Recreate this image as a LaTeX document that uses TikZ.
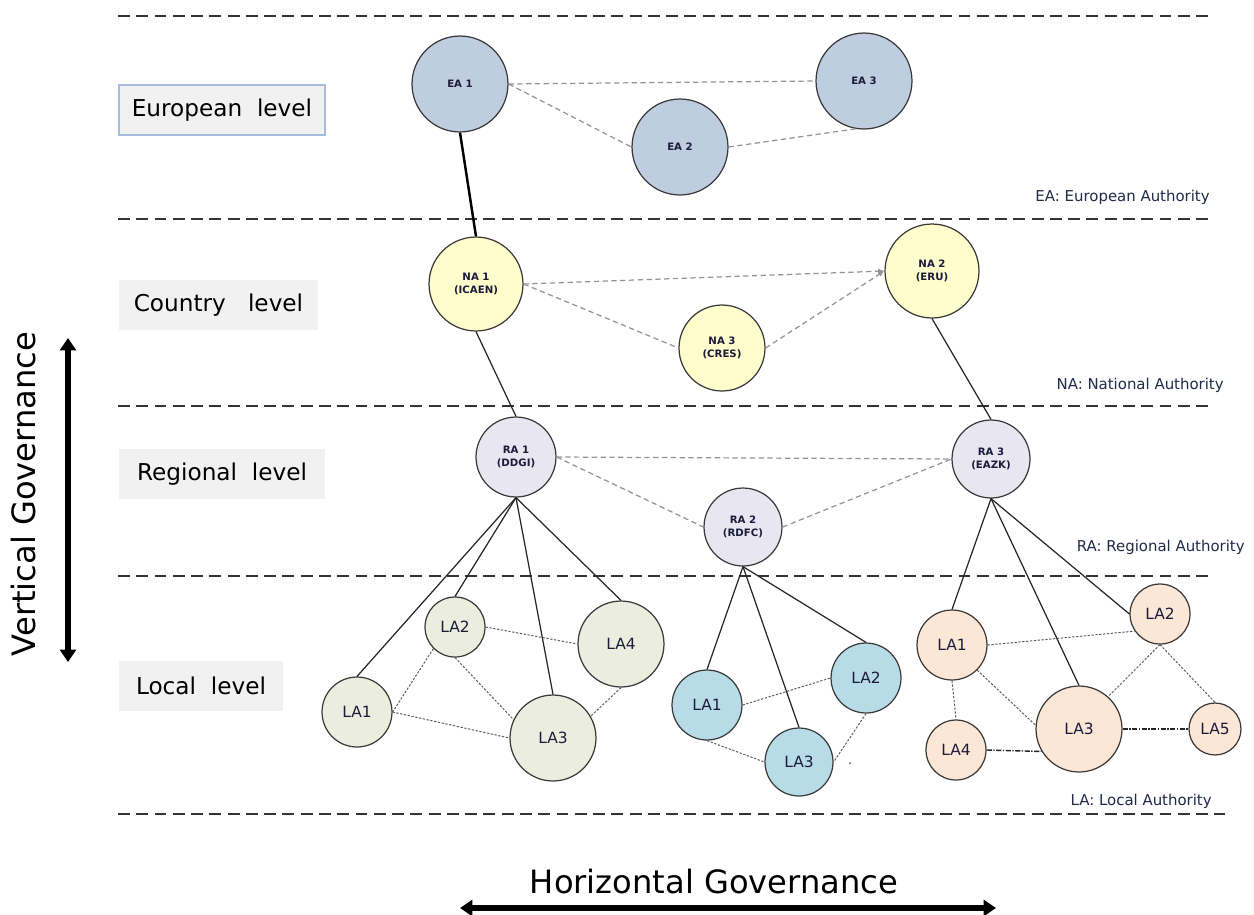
\documentclass[tikz,border=0pt]{standalone}
\usepackage{fontspec}
\setmainfont{DejaVu Sans}
\usetikzlibrary{arrows.meta}
\definecolor{eafill}{HTML}{BFCDE0}
\definecolor{nafill}{HTML}{FFFDCC}
\definecolor{rafill}{HTML}{E8E6F0}
\definecolor{lagreen}{HTML}{EBEEDE}
\definecolor{lablue}{HTML}{B8DCE7}
\definecolor{laorange}{HTML}{FCE6D6}
\definecolor{circline}{HTML}{3A3A3A}
\definecolor{labtxt}{HTML}{1C1C3A}
\definecolor{lvlfill}{HTML}{F1F1F1}
\definecolor{lvlborder}{HTML}{A6BCDD}
\definecolor{legtxt}{HTML}{1F2A48}
\begin{document}
\begin{tikzpicture}[x=0.02cm,y=-0.02cm,
  auth/.style={circle,draw=circline,line width=0.7pt,inner sep=0pt,align=center,text=labtxt,minimum size=#1*0.04cm},
  upper/.style={font=\bfseries\fontsize{5.8}{7.2}\selectfont},
  lower/.style={font=\fontsize{8.8}{10}\selectfont},
  divider/.style={draw=black!80,line width=0.8pt,dash pattern=on 6.8pt off 3.6pt},
  peer/.style={draw=gray!85,line width=0.7pt,dash pattern=on 3pt off 2pt},
  peertip/.style={peer,-{Latex[length=3.5pt,width=3pt]}},
  peerlocal/.style={draw=gray!70!black,line width=0.55pt,dash pattern=on 1.3pt off 0.9pt},
  dashdotlink/.style={draw=black!85,line width=0.8pt,dash pattern=on 3pt off 0.8pt on 0.8pt off 0.8pt},
  vert/.style={draw=black!85,line width=0.7pt},
  lvl/.style={fill=lvlfill,minimum height=50*0.02cm,inner sep=0pt,font=\fontsize{13.2}{15}\selectfont,text=black},
  legend/.style={anchor=east,font=\fontsize{8.5}{10}\selectfont,text=legtxt,inner sep=0pt},
  gov/.style={font=\fontsize{18.3}{20}\selectfont,inner sep=0pt},
  bigarrow/.style={line width=3.2pt,{Triangle[length=7pt,width=9pt]}-{Triangle[length=7pt,width=9pt]}}
]
\useasboundingbox (0,0) rectangle (1254,914);

% level dividers
\draw[divider] (118,16) -- (1208,16);
\draw[divider] (118,219) -- (1208,219);
\draw[divider] (118,406) -- (1208,406);
\draw[divider] (118,576) -- (1208,576);
\draw[divider] (118,814) -- (1225,814);

% level labels
\node[lvl,minimum width=206*0.02cm,draw=lvlborder,line width=0.6pt] (lvlEU) at (222,110) {European\ \ level};
\node[lvl,minimum width=199*0.02cm] (lvlCO) at (218.5,305) {Country\ \ \ level};
\node[lvl,minimum width=206*0.02cm] (lvlRE) at (222,474) {Regional\ \ level};
\node[lvl,minimum width=164*0.02cm] (lvlLO) at (201,686) {Local\ \ level};

% legends
\node[legend] (legEA) at (1210,197) {EA: European Authority};
\node[legend] (legNA) at (1224,385) {NA: National Authority};
\node[legend] (legRA) at (1245,547) {RA: Regional Authority};
\node[legend] (legLA) at (1212,801) {LA: Local Authority};

% governance arrows
\node[gov,rotate=90] (vg) at (24,494) {Vertical Governance};
\node[gov] (hg) at (714,881) {Horizontal Governance};
\coordinate (vtop) at (68,338);
\coordinate (vbot) at (68,662);
\coordinate (hleft) at (460,908);
\coordinate (hright) at (996,908);
\draw[bigarrow] (vtop) -- (vbot);
\draw[bigarrow] (hleft) -- (hright);

% European authorities
\node[auth=48,fill=eafill,upper] (EA1) at (460,84) {EA 1};
\node[auth=48,fill=eafill,upper] (EA2) at (680,147) {EA 2};
\node[auth=48,fill=eafill,upper] (EA3) at (864,81) {EA 3};

% National authorities
\node[auth=47,fill=nafill,upper] (NA1) at (476,284) {NA 1\\(ICAEN)};
\node[auth=47,fill=nafill,upper] (NA2) at (932,271) {NA 2\\(ERU)};
\node[auth=43,fill=nafill,upper] (NA3) at (722,348) {NA 3\\(CRES)};

% Regional authorities
\node[auth=40,fill=rafill,upper] (RA1) at (516,457) {RA 1\\(DDGI)};
\node[auth=39,fill=rafill,upper] (RA2) at (743,527) {RA 2\\(RDFC)};
\node[auth=39,fill=rafill,upper] (RA3) at (991,459) {RA 3\\(EAZK)};

% Local authorities (green)
\node[auth=35,fill=lagreen,lower] (LA1g) at (357,712) {LA1};
\node[auth=30,fill=lagreen,lower] (LA2g) at (455,627) {LA2};
\node[auth=43,fill=lagreen,lower] (LA3g) at (553,738) {LA3};
\node[auth=43,fill=lagreen,lower] (LA4g) at (621,644) {LA4};

% Local authorities (blue)
\node[auth=35,fill=lablue,lower] (LA1b) at (707,705) {LA1};
\node[auth=35,fill=lablue,lower] (LA2b) at (866,678) {LA2};
\node[auth=34,fill=lablue,lower] (LA3b) at (799,762) {LA3};

% Local authorities (orange)
\node[auth=35,fill=laorange,lower] (LA1o) at (952,645) {LA1};
\node[auth=30,fill=laorange,lower] (LA2o) at (1160,614) {LA2};
\node[auth=43,fill=laorange,lower] (LA3o) at (1079,729) {LA3};
\node[auth=30,fill=laorange,lower] (LA4o) at (956,750) {LA4};
\node[auth=26,fill=laorange,lower] (LA5o) at (1215,729) {LA5};

% vertical links
\draw[draw=black,line width=1.4pt] (EA1.south) -- (NA1.north);
\draw[vert] (NA1.south) -- (RA1.north);
\draw[vert] (NA2.south) -- (RA3.north);
\draw[vert] (RA1.south) -- (LA1g.north);
\draw[vert] (RA1.south) -- (LA2g.north);
\draw[vert] (RA1.south) -- (LA3g.north);
\draw[vert] (RA1.south) -- (LA4g.north);
\draw[vert] (RA2.south) -- (LA1b.north);
\draw[vert] (RA2.south) -- (LA3b.north);
\draw[vert] (RA2.south) -- (LA2b.north);
\draw[vert] (RA3.south) -- (LA1o.north);
\draw[vert] (RA3.south) -- (LA3o.north);
\draw[vert] (RA3.south) -- (LA2o.west);

% peer links upper levels
\draw[peer] (EA1.east) -- (EA3.west);
\draw[peer] (EA1.east) -- (EA2.west);
\draw[peer] (EA2.east) -- (EA3.-100);
\draw[peertip] (NA1.east) -- (NA2.west);
\draw[peer] (NA1.east) -- (NA3.west);
\draw[peertip] (NA3.east) -- (NA2.west);
\draw[peer] (RA1.east) -- (RA3.west);
\draw[peer] (RA1.east) -- (RA2.west);
\draw[peer] (RA2.east) -- (RA3.west);

% peer links local (green)
\draw[peerlocal] (LA2g.east) -- (LA4g.west);
\draw[peerlocal] (LA2g.south west) -- (LA1g.east);
\draw[peerlocal] (LA2g.south) -- (LA3g.155);
\draw[peerlocal] (LA1g.east) -- (LA3g.west);
\draw[peerlocal] (LA4g.south) -- (LA3g.30);

% peer links local (blue)
\draw[peerlocal] (LA1b.east) -- (LA2b.west);
\draw[peerlocal] (LA1b.south) -- (LA3b.west);
\draw[peerlocal] (LA2b.south) -- (LA3b.east);
\fill[gray!70!black] (850,763) circle (1);

% peer links local (orange)
\draw[peerlocal] (LA1o.east) -- (LA2o.214);
\draw[peerlocal] (LA1o.south) -- (LA4o.north);
\draw[peerlocal] (LA1o.-45) -- (LA3o.175);
\draw[peerlocal] (LA2o.south) -- (LA3o.48);
\draw[peerlocal] (LA2o.south) -- (LA5o.north);
\draw[dashdotlink] (LA4o.east) -- (LA3o.211);
\draw[dashdotlink] (LA3o.east) -- (LA5o.west);
\end{tikzpicture}
\end{document}
